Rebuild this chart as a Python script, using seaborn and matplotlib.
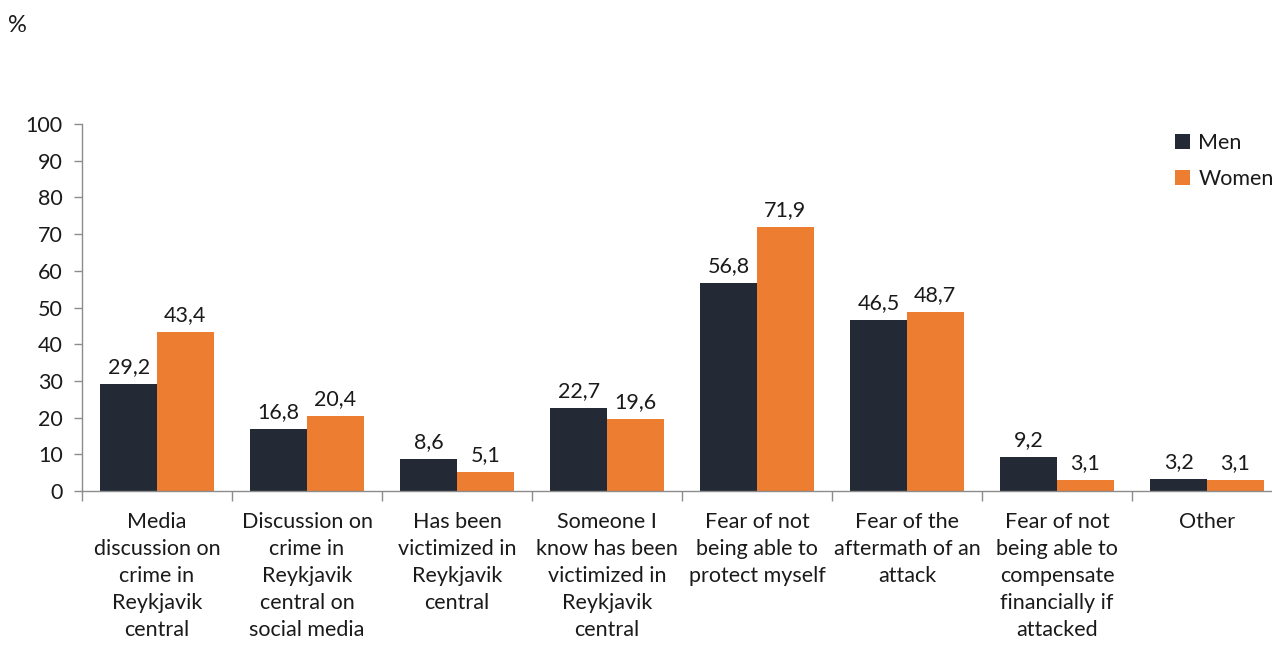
import matplotlib
matplotlib.use("Agg")
import matplotlib.pyplot as plt
import seaborn as sns
import pandas as pd
import numpy as np

categories = [
    "Media\ndiscussion on\ncrime in\nReykjavik\ncentral",
    "Discussion on\ncrime in\nReykjavik\ncentral on\nsocial media",
    "Has been\nvictimized in\nReykjavik\ncentral",
    "Someone I\nknow has been\nvictimized in\nReykjavik\ncentral",
    "Fear of not\nbeing able to\nprotect myself",
    "Fear of the\naftermath of an\nattack",
    "Fear of not\nbeing able to\ncompensate\nfinancially if\nattacked",
    "Other",
]
men = [29.2, 16.8, 8.6, 22.7, 56.8, 46.5, 9.2, 3.2]
women = [43.4, 20.4, 5.1, 19.6, 71.9, 48.7, 3.1, 3.1]
series = ["Men", "Women"]
colors = ["#232a36", "#ed7d31"]

df = pd.DataFrame({
    "category": categories * 2,
    "group": [series[0]] * len(categories) + [series[1]] * len(categories),
    "value": men + women,
})

sns.set_style("white")
plt.rcParams["font.family"] = ["Lato", "DejaVu Sans"]

FS = 15.5
W, H = 1272, 645
fig = plt.figure(figsize=(W / 100, H / 100), dpi=100)
ax = fig.add_axes([82 / W, (H - 491) / H, 1200 / W, (491 - 124) / H])

sns.barplot(data=df, x="category", y="value", hue="group", palette=colors,
            width=0.755, gap=0, saturation=1, linewidth=0, edgecolor="none",
            ax=ax, legend=True)

ax.set_xlim(-0.5, len(categories) - 0.5)
ax.set_ylim(0, 100)
ax.set_yticks(np.arange(0, 101, 10))
ax.set_xlabel("")
ax.set_ylabel("")

for c in ax.containers:
    ax.bar_label(c, labels=[f"{v:.1f}".replace(".", ",") for v in c.datavalues],
                 padding=5, fontsize=FS, color="#1a1a1a")

for s in ["top", "right"]:
    ax.spines[s].set_visible(False)
for s in ["left", "bottom"]:
    ax.spines[s].set_color("#8c8c8c")
    ax.spines[s].set_linewidth(1)

# y ticks outward on the left spine
ax.tick_params(axis="y", direction="out", length=6, width=1, color="#8c8c8c",
               labelsize=FS, labelcolor="#1a1a1a", pad=8, left=True)

# x ticks sit between category groups; labels centred on groups
ax.set_xticks(np.arange(len(categories)))
ax.set_xticklabels(categories, fontsize=FS, color="#1a1a1a", linespacing=1.44,
                   va="top")
ax.tick_params(axis="x", length=0, pad=15)
ax.set_xticks(np.arange(-0.5, len(categories), 1), minor=True)
ax.tick_params(axis="x", which="minor", direction="out", length=7, width=1,
               color="#8c8c8c", bottom=True)

leg = ax.legend(loc="upper left", bbox_to_anchor=((1166 - 82) / 1200, 1.0),
                frameon=False, fontsize=FS, handlelength=0.7, handleheight=0.7,
                handletextpad=0.4, labelspacing=0.75, borderaxespad=0)
for t in leg.get_texts():
    t.set_color("#1a1a1a")

fig.text(8 / W, 1 - 25 / H, "%", fontsize=17, va="center", ha="left",
         color="#1a1a1a")

fig.savefig("out.png", dpi=100)
